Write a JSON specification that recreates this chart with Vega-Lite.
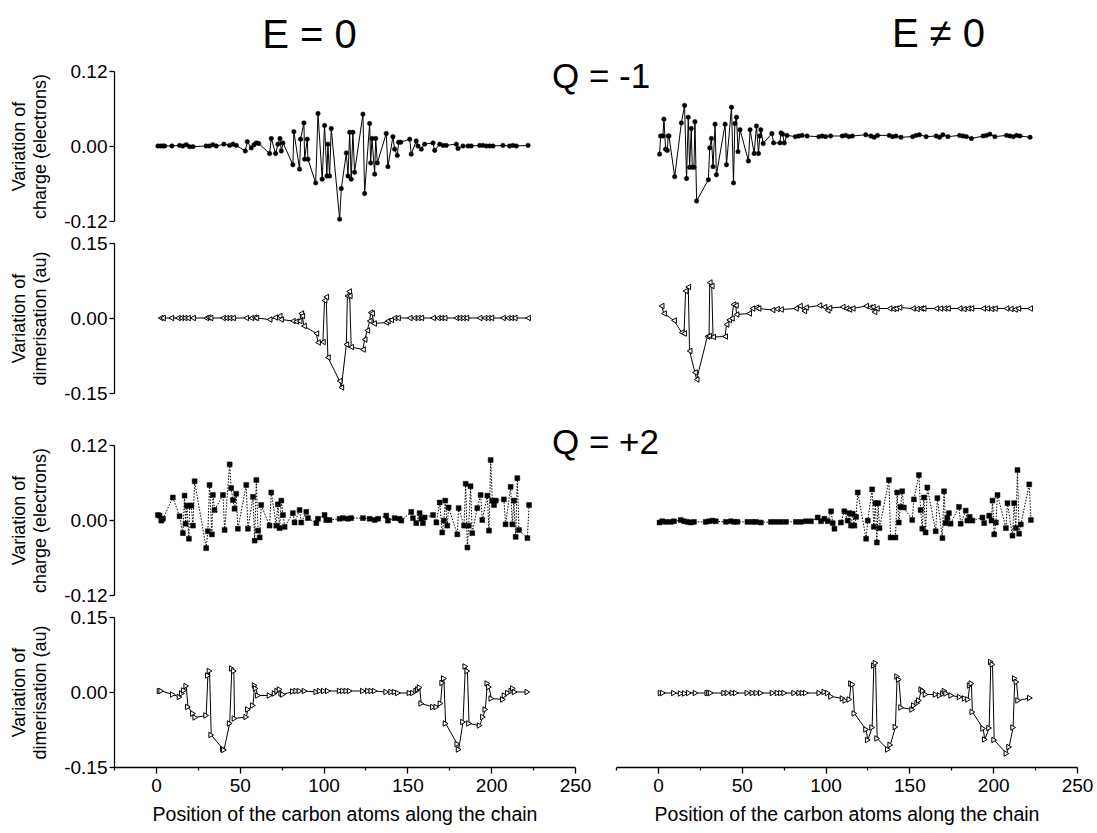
{
  "$schema": "https://vega.github.io/schema/vega-lite/v6.json",
  "padding": {"left": 10, "top": 15, "right": 5, "bottom": 5},
  "config": {
    "view": {"stroke": null},
    "font": "Liberation Sans",
    "axis": {"domainColor": "black", "tickColor": "black", "labelColor": "black", "titleColor": "black", "labelFontSize": 19, "titleFontSize": 18, "titleFontWeight": "normal", "grid": false, "domainWidth": 1.3, "tickWidth": 1.3, "labelPadding": 2, "labelFont": "Liberation Sans", "titleFont": "Liberation Sans"},
    "title": {"fontWeight": "normal", "color": "black", "font": "Liberation Sans"}
  },
  "datasets": {
    "c1L": [{"x":1.2,"y":0},{"x":2.8,"y":0},{"x":4.2,"y":0},{"x":5.2,"y":0},{"x":9.5,"y":0},{"x":14.1,"y":0.001},{"x":16.1,"y":0},{"x":18.1,"y":0.002},{"x":20.1,"y":-0.001},{"x":22.1,"y":-0.001},{"x":30,"y":0},{"x":32,"y":0},{"x":34,"y":0.002},{"x":36,"y":0},{"x":40.6,"y":0.003},{"x":44,"y":0.001},{"x":46,"y":0.003},{"x":48,"y":0.001},{"x":53.3,"y":-0.008},{"x":54.5,"y":0.007},{"x":56.9,"y":-0.003},{"x":58.5,"y":0.002},{"x":59.9,"y":0.005},{"x":61.3,"y":0.004},{"x":67.8,"y":-0.012},{"x":68.8,"y":0.012},{"x":71.4,"y":-0.012},{"x":72.8,"y":0.003},{"x":74,"y":0.012},{"x":74.8,"y":-0.008},{"x":75.8,"y":0.005},{"x":81.7,"y":-0.03},{"x":82.3,"y":0.023},{"x":85.7,"y":-0.037},{"x":86.3,"y":0.011},{"x":88.3,"y":0.037},{"x":88.7,"y":-0.021},{"x":90.3,"y":0.011},{"x":90.7,"y":-0.021},{"x":95.3,"y":-0.059},{"x":96.7,"y":0.052},{"x":99.2,"y":-0.053},{"x":100.6,"y":0.033},{"x":102,"y":-0.048},{"x":102.6,"y":0.003},{"x":103.6,"y":-0.048},{"x":104.6,"y":0.028},{"x":109.6,"y":-0.117},{"x":110.6,"y":-0.068},{"x":113.6,"y":-0.011},{"x":114.6,"y":-0.048},{"x":115.6,"y":0.022},{"x":116.5,"y":-0.053},{"x":117.5,"y":0.022},{"x":118.5,"y":-0.042},{"x":123.5,"y":0.051},{"x":124.5,"y":-0.076},{"x":127.5,"y":0.036},{"x":128.1,"y":-0.027},{"x":128.9,"y":0.012},{"x":130.5,"y":-0.045},{"x":131.1,"y":0.012},{"x":132.1,"y":-0.027},{"x":137.4,"y":0.02},{"x":138.4,"y":-0.033},{"x":141.4,"y":0.015},{"x":142.4,"y":-0.005},{"x":144,"y":-0.015},{"x":144.8,"y":0.006},{"x":146,"y":0.006},{"x":151.4,"y":0.011},{"x":152.3,"y":-0.013},{"x":155.3,"y":0.008},{"x":156.3,"y":0},{"x":158.3,"y":-0.005},{"x":160.3,"y":0.003},{"x":165.3,"y":0.005},{"x":166.3,"y":-0.007},{"x":169.3,"y":0.003},{"x":171.3,"y":0.001},{"x":173.2,"y":0.001},{"x":179.2,"y":0.003},{"x":180.2,"y":-0.004},{"x":183.2,"y":0},{"x":186.2,"y":0},{"x":188.1,"y":0},{"x":193.1,"y":0.001},{"x":195.1,"y":0.001},{"x":197.1,"y":0},{"x":199.1,"y":0},{"x":201.1,"y":0},{"x":207,"y":0.001},{"x":211,"y":0},{"x":213,"y":0.001},{"x":215,"y":0},{"x":222,"y":0.001}],
    "c1R": [{"x":1,"y":-0.013},{"x":1.6,"y":0.016},{"x":3,"y":0.016},{"x":3.6,"y":0.043},{"x":4.6,"y":-0.005},{"x":5.6,"y":-0.007},{"x":6.2,"y":0.016},{"x":6.6,"y":0.016},{"x":10,"y":-0.049},{"x":14,"y":0.037},{"x":15.9,"y":0.065},{"x":17.1,"y":-0.052},{"x":18.1,"y":0.046},{"x":18.9,"y":-0.034},{"x":19.9,"y":0.028},{"x":20.5,"y":-0.034},{"x":21.5,"y":-0.034},{"x":22.1,"y":0.039},{"x":23.1,"y":-0.088},{"x":30.1,"y":-0.054},{"x":30.9,"y":-0.003},{"x":31.9,"y":0.012},{"x":32.9,"y":-0.033},{"x":34.1,"y":0.035},{"x":34.9,"y":-0.046},{"x":40.1,"y":0.035},{"x":40.9,"y":-0.03},{"x":43.9,"y":0.062},{"x":45.1,"y":-0.059},{"x":45.9,"y":0.036},{"x":46.9,"y":0.046},{"x":47.8,"y":-0.009},{"x":49,"y":0.026},{"x":54,"y":-0.024},{"x":55,"y":0.026},{"x":57.4,"y":-0.012},{"x":58.8,"y":0.032},{"x":60,"y":-0.012},{"x":60.8,"y":0.016},{"x":61.4,"y":0.026},{"x":62.8,"y":0.004},{"x":68,"y":0.02},{"x":69,"y":0.005},{"x":72.8,"y":0.005},{"x":73.4,"y":0.021},{"x":74.4,"y":0.019},{"x":75.4,"y":0.005},{"x":77,"y":0.017},{"x":82,"y":0.015},{"x":84,"y":0.016},{"x":86,"y":0.017},{"x":89,"y":0.016},{"x":96,"y":0.015},{"x":98,"y":0.016},{"x":100,"y":0.015},{"x":103,"y":0.016},{"x":110,"y":0.016},{"x":112,"y":0.017},{"x":114,"y":0.015},{"x":116,"y":0.016},{"x":124,"y":0.018},{"x":127,"y":0.016},{"x":129,"y":0.014},{"x":131,"y":0.017},{"x":138,"y":0.017},{"x":140,"y":0.015},{"x":142,"y":0.016},{"x":145,"y":0.014},{"x":152,"y":0.015},{"x":154,"y":0.017},{"x":156,"y":0.018},{"x":160,"y":0.015},{"x":166,"y":0.016},{"x":168,"y":0.014},{"x":170,"y":0.018},{"x":173,"y":0.015},{"x":180,"y":0.017},{"x":182,"y":0.016},{"x":184,"y":0.015},{"x":187,"y":0.012},{"x":194,"y":0.016},{"x":196,"y":0.017},{"x":198,"y":0.019},{"x":201,"y":0.015},{"x":208,"y":0.017},{"x":210,"y":0.016},{"x":212,"y":0.015},{"x":214,"y":0.017},{"x":216,"y":0.016},{"x":222,"y":0.014}],
    "d1L": [{"x":2.8,"y":0},{"x":4.2,"y":0},{"x":9.2,"y":0},{"x":13.1,"y":0},{"x":15.1,"y":0},{"x":17.1,"y":0},{"x":19.1,"y":0},{"x":22.1,"y":0},{"x":30,"y":0},{"x":31.4,"y":0.001},{"x":32.6,"y":0},{"x":40,"y":0},{"x":42,"y":0},{"x":44,"y":0},{"x":46,"y":0},{"x":53.9,"y":0},{"x":56.9,"y":0},{"x":58.9,"y":0.001},{"x":59.9,"y":0},{"x":67.8,"y":-0.003},{"x":71.2,"y":0.001},{"x":73.8,"y":0.004},{"x":74.6,"y":-0.003},{"x":81.7,"y":-0.006},{"x":83.7,"y":-0.007},{"x":85.7,"y":-0.006},{"x":86.7,"y":0.009},{"x":87.3,"y":0.004},{"x":88.3,"y":-0.016},{"x":95.7,"y":-0.031},{"x":96.7,"y":-0.049},{"x":99.6,"y":-0.048},{"x":100.6,"y":0.035},{"x":101.6,"y":0.042},{"x":102.6,"y":-0.079},{"x":109.6,"y":-0.126},{"x":110.6,"y":-0.139},{"x":113.6,"y":-0.053},{"x":114.2,"y":0.044},{"x":115.2,"y":0.053},{"x":115.6,"y":0.044},{"x":116.5,"y":-0.058},{"x":123.5,"y":-0.063},{"x":124.5,"y":-0.043},{"x":126.1,"y":-0.025},{"x":127.5,"y":-0.006},{"x":128.1,"y":0.011},{"x":128.9,"y":0.009},{"x":130.1,"y":-0.011},{"x":137.4,"y":-0.009},{"x":138.4,"y":-0.006},{"x":140.4,"y":-0.004},{"x":142.4,"y":0},{"x":144.4,"y":0},{"x":151.4,"y":0},{"x":154.3,"y":0},{"x":156.3,"y":0},{"x":158.3,"y":0},{"x":165.3,"y":0},{"x":168.3,"y":0},{"x":170.3,"y":0},{"x":172.2,"y":0},{"x":179.2,"y":0},{"x":181.2,"y":0},{"x":183.2,"y":0},{"x":185.2,"y":0},{"x":193.1,"y":0},{"x":196.1,"y":0},{"x":198.1,"y":0},{"x":200.1,"y":0},{"x":207,"y":0},{"x":210,"y":0},{"x":212,"y":0},{"x":214,"y":0},{"x":222,"y":0}],
    "d1R": [{"x":2.2,"y":0.024},{"x":3.6,"y":0.009},{"x":9.6,"y":-0.005},{"x":14.2,"y":-0.029},{"x":15.6,"y":-0.031},{"x":16.5,"y":0.054},{"x":18.1,"y":0.062},{"x":18.9,"y":-0.066},{"x":22.1,"y":-0.109},{"x":23.1,"y":-0.123},{"x":29.5,"y":-0.037},{"x":30.5,"y":-0.036},{"x":30.9,"y":0.071},{"x":32.1,"y":0.064},{"x":32.9,"y":-0.038},{"x":40.1,"y":-0.037},{"x":40.9,"y":-0.013},{"x":42.5,"y":-0.004},{"x":44.1,"y":-0.001},{"x":45.1,"y":0.027},{"x":46.5,"y":0.025},{"x":46.9,"y":0.007},{"x":54.4,"y":0.009},{"x":56.4,"y":0.019},{"x":58.8,"y":0.021},{"x":60,"y":0.019},{"x":68.4,"y":0.016},{"x":71,"y":0.018},{"x":73.4,"y":0.017},{"x":82.3,"y":0.019},{"x":84.7,"y":0.024},{"x":87.3,"y":0.014},{"x":88.3,"y":0.021},{"x":96.3,"y":0.025},{"x":99.3,"y":0.022},{"x":101.3,"y":0.015},{"x":102.3,"y":0.02},{"x":110.2,"y":0.022},{"x":112.5,"y":0.019},{"x":114.2,"y":0.017},{"x":116.2,"y":0.019},{"x":124.2,"y":0.024},{"x":126.5,"y":0.021},{"x":128.2,"y":0.022},{"x":129.2,"y":0.012},{"x":130.6,"y":0.019},{"x":138.2,"y":0.019},{"x":140.5,"y":0.018},{"x":142.1,"y":0.019},{"x":144.1,"y":0.021},{"x":152.1,"y":0.019},{"x":154.5,"y":0.018},{"x":157.1,"y":0.019},{"x":158.5,"y":0.019},{"x":166.1,"y":0.019},{"x":168.5,"y":0.019},{"x":171,"y":0.019},{"x":173,"y":0.019},{"x":180,"y":0.019},{"x":182.5,"y":0.018},{"x":185,"y":0.019},{"x":187,"y":0.019},{"x":194,"y":0.019},{"x":196.5,"y":0.019},{"x":199,"y":0.018},{"x":201,"y":0.019},{"x":208,"y":0.019},{"x":210.5,"y":0.018},{"x":213,"y":0.017},{"x":215,"y":0.019},{"x":222,"y":0.019}],
    "c2L": [{"x":1.2,"y":0.008},{"x":2.2,"y":0.007},{"x":3.2,"y":-0.001},{"x":4.2,"y":0.002},{"x":10.1,"y":0.036},{"x":14.1,"y":0.006},{"x":16.1,"y":-0.021},{"x":17.1,"y":0.039},{"x":17.7,"y":-0.006},{"x":18.5,"y":0.023},{"x":19.7,"y":-0.03},{"x":20.1,"y":0.023},{"x":21.1,"y":0.023},{"x":22.1,"y":-0.009},{"x":23.1,"y":0.062},{"x":30,"y":-0.045},{"x":31,"y":-0.018},{"x":32,"y":0.056},{"x":33.4,"y":-0.023},{"x":34,"y":0.04},{"x":35,"y":0.016},{"x":40,"y":0.04},{"x":41,"y":-0.016},{"x":44,"y":0.089},{"x":44.9,"y":0.051},{"x":45.9,"y":0.032},{"x":46.9,"y":0.018},{"x":47.9,"y":0.042},{"x":48.9,"y":-0.014},{"x":53.9,"y":0.056},{"x":54.9,"y":-0.014},{"x":57.9,"y":0.037},{"x":58.9,"y":-0.033},{"x":59.9,"y":0.064},{"x":60.9,"y":-0.017},{"x":61.9,"y":-0.028},{"x":62.8,"y":0.024},{"x":67.8,"y":-0.009},{"x":68.8,"y":0.044},{"x":71.8,"y":-0.009},{"x":72.8,"y":0.025},{"x":73.8,"y":-0.013},{"x":74.8,"y":0.031},{"x":75.8,"y":0.008},{"x":76.8,"y":-0.011},{"x":81.7,"y":0.011},{"x":82.7,"y":-0.004},{"x":85.7,"y":0.016},{"x":86.7,"y":-0.004},{"x":89.7,"y":0.013},{"x":90.7,"y":0.003},{"x":95.7,"y":-0.005},{"x":96.7,"y":0.002},{"x":100.6,"y":0.008},{"x":101.6,"y":0},{"x":103.6,"y":0},{"x":109.6,"y":0.002},{"x":111.6,"y":0.003},{"x":114.6,"y":0.002},{"x":116.5,"y":0.003},{"x":123.5,"y":0.003},{"x":127.5,"y":0.002},{"x":130.5,"y":0},{"x":132.5,"y":0.002},{"x":137.4,"y":0.007},{"x":138.4,"y":-0.001},{"x":142.4,"y":0.003},{"x":145.4,"y":0.002},{"x":146.4,"y":-0.001},{"x":152.3,"y":0.013},{"x":153.3,"y":0.003},{"x":155.3,"y":-0.005},{"x":157.3,"y":0.011},{"x":158.3,"y":0.002},{"x":159.3,"y":-0.005},{"x":160.3,"y":0.004},{"x":165.3,"y":0.008},{"x":167.3,"y":-0.004},{"x":169.3,"y":0.028},{"x":170.8,"y":-0.02},{"x":171.8,"y":-0.001},{"x":172.6,"y":0.031},{"x":173.8,"y":-0.009},{"x":174.6,"y":0.02},{"x":179.8,"y":-0.023},{"x":180.6,"y":0.019},{"x":183.8,"y":-0.009},{"x":184.8,"y":0.058},{"x":185.8,"y":-0.044},{"x":186.6,"y":-0.009},{"x":187.7,"y":0.054},{"x":188.7,"y":-0.021},{"x":191.7,"y":0.019},{"x":193.7,"y":0.04},{"x":194.7,"y":0},{"x":197.7,"y":0.039},{"x":198.7,"y":-0.017},{"x":199.7,"y":0.096},{"x":200.7,"y":0.031},{"x":201.7,"y":0.024},{"x":202.7,"y":0.031},{"x":207.6,"y":0.033},{"x":208.6,"y":-0.007},{"x":211.6,"y":0.053},{"x":212.6,"y":-0.007},{"x":213.6,"y":0.031},{"x":214.6,"y":-0.027},{"x":215.6,"y":0.067},{"x":216.6,"y":-0.016},{"x":221.6,"y":-0.029},{"x":222.6,"y":0.024}],
    "c2R": [{"x":1,"y":-0.004},{"x":2.6,"y":-0.002},{"x":4.6,"y":-0.003},{"x":7.6,"y":-0.003},{"x":9.6,"y":-0.002},{"x":13.6,"y":0},{"x":15.6,"y":-0.002},{"x":17.6,"y":-0.003},{"x":19.6,"y":-0.004},{"x":21.5,"y":-0.003},{"x":28.5,"y":-0.003},{"x":30.5,"y":-0.002},{"x":32.5,"y":-0.001},{"x":34.5,"y":-0.002},{"x":40.5,"y":-0.003},{"x":43.5,"y":-0.002},{"x":45.5,"y":-0.003},{"x":47.4,"y":-0.003},{"x":53.4,"y":-0.003},{"x":56.4,"y":-0.003},{"x":58.4,"y":-0.003},{"x":61.4,"y":-0.004},{"x":67.4,"y":-0.003},{"x":70.4,"y":-0.003},{"x":73.4,"y":-0.003},{"x":76.4,"y":-0.003},{"x":82.3,"y":-0.003},{"x":85.3,"y":-0.003},{"x":88.3,"y":-0.002},{"x":91.3,"y":-0.002},{"x":95.3,"y":0.004},{"x":97.3,"y":-0.002},{"x":99.3,"y":0.002},{"x":101.3,"y":-0.002},{"x":103.3,"y":0.014},{"x":104.3,"y":-0.005},{"x":105.3,"y":-0.014},{"x":109.2,"y":-0.004},{"x":111.2,"y":0.014},{"x":113.2,"y":-0.001},{"x":114.2,"y":0.011},{"x":115.2,"y":-0.009},{"x":116.2,"y":0.01},{"x":117.2,"y":-0.009},{"x":118.2,"y":0.005},{"x":119.2,"y":0.044},{"x":124.2,"y":-0.03},{"x":125.2,"y":-0.001},{"x":127.8,"y":0.049},{"x":128.8,"y":-0.011},{"x":129.8,"y":0.027},{"x":130.6,"y":-0.036},{"x":131.4,"y":0.027},{"x":132.2,"y":-0.013},{"x":137.8,"y":0.064},{"x":138.8,"y":-0.028},{"x":141.7,"y":-0.028},{"x":142.7,"y":0.044},{"x":143.7,"y":-0.004},{"x":144.7,"y":0.021},{"x":145.7,"y":0.046},{"x":146.7,"y":0.02},{"x":151.7,"y":0},{"x":152.7,"y":0.033},{"x":155.7,"y":0.072},{"x":156.7,"y":0.016},{"x":157.7,"y":-0.014},{"x":158.7,"y":0.036},{"x":159.7,"y":-0.02},{"x":160.7,"y":0.052},{"x":165.7,"y":-0.018},{"x":166.7,"y":0.035},{"x":169.7,"y":-0.029},{"x":170.7,"y":0.046},{"x":171.6,"y":-0.005},{"x":172.6,"y":0.003},{"x":173.6,"y":0.011},{"x":174.6,"y":-0.006},{"x":179.6,"y":0.021},{"x":180.6,"y":-0.006},{"x":183.6,"y":0.015},{"x":184.6,"y":-0.001},{"x":186,"y":0.005},{"x":187.6,"y":-0.001},{"x":193.6,"y":0.004},{"x":194.6,"y":-0.005},{"x":197.6,"y":0.007},{"x":199,"y":-0.001},{"x":199.6,"y":0.031},{"x":200.6,"y":-0.023},{"x":201.6,"y":-0.004},{"x":202.6,"y":0.04},{"x":207.6,"y":-0.013},{"x":208.5,"y":0.027},{"x":211.5,"y":-0.025},{"x":212.5,"y":0.027},{"x":213.5,"y":-0.013},{"x":214.5,"y":0.08},{"x":215.5,"y":-0.022},{"x":216.5,"y":-0.007},{"x":221.5,"y":0.057},{"x":222.5,"y":0}],
    "d2L": [{"x":2.2,"y":0.002},{"x":3.2,"y":0.002},{"x":10.1,"y":-0.005},{"x":14.1,"y":-0.01},{"x":15.5,"y":-0.003},{"x":16.7,"y":0.003},{"x":18.1,"y":0.012},{"x":19.1,"y":-0.03},{"x":22.1,"y":-0.043},{"x":23.5,"y":-0.051},{"x":30,"y":-0.047},{"x":31,"y":0.033},{"x":32,"y":0.042},{"x":33,"y":-0.086},{"x":40,"y":-0.114},{"x":40.6,"y":-0.116},{"x":44,"y":-0.063},{"x":45.3,"y":0.047},{"x":46.5,"y":0.042},{"x":46.9,"y":-0.053},{"x":53.9,"y":-0.05},{"x":54.9,"y":-0.035},{"x":57.9,"y":-0.027},{"x":58.9,"y":0.013},{"x":59.5,"y":0.007},{"x":60.9,"y":-0.007},{"x":67.8,"y":-0.007},{"x":70.8,"y":-0.003},{"x":72.4,"y":0.002},{"x":73.8,"y":0.005},{"x":74.8,"y":-0.003},{"x":75.8,"y":-0.005},{"x":81.7,"y":0.001},{"x":83.7,"y":0.002},{"x":85.7,"y":0.002},{"x":88.7,"y":0.002},{"x":95.7,"y":0},{"x":97.7,"y":0.002},{"x":100.2,"y":0.002},{"x":102.6,"y":0.002},{"x":109.6,"y":0.002},{"x":111.6,"y":0.002},{"x":113.6,"y":0.002},{"x":115.6,"y":0.002},{"x":123.5,"y":0.002},{"x":126.5,"y":0.002},{"x":128.5,"y":0.002},{"x":130.5,"y":0.002},{"x":137.4,"y":0},{"x":140.4,"y":0},{"x":142.4,"y":0},{"x":144.4,"y":-0.002},{"x":151.3,"y":-0.002},{"x":153.3,"y":-0.002},{"x":155.3,"y":0.002},{"x":156.3,"y":0.005},{"x":157.3,"y":0.009},{"x":158.3,"y":-0.023},{"x":165.3,"y":-0.03},{"x":167.3,"y":-0.03},{"x":169.8,"y":-0.023},{"x":170.8,"y":0.018},{"x":171.8,"y":0.027},{"x":172.8,"y":-0.063},{"x":179.8,"y":-0.104},{"x":180.6,"y":-0.115},{"x":183.2,"y":-0.06},{"x":184.6,"y":0.051},{"x":185.8,"y":0.042},{"x":186.8,"y":-0.063},{"x":193.1,"y":-0.067},{"x":195.1,"y":-0.05},{"x":196.5,"y":-0.035},{"x":197.7,"y":0.017},{"x":198.7,"y":0.01},{"x":200.1,"y":-0.013},{"x":207,"y":-0.015},{"x":208,"y":-0.007},{"x":210,"y":-0.002},{"x":212,"y":0.002},{"x":213,"y":0.007},{"x":214,"y":0},{"x":221.6,"y":0}],
    "d2R": [{"x":1.6,"y":-0.002},{"x":3,"y":-0.002},{"x":9.6,"y":-0.002},{"x":13.6,"y":-0.003},{"x":16.1,"y":-0.003},{"x":18.5,"y":-0.002},{"x":22.5,"y":-0.002},{"x":29.5,"y":-0.002},{"x":30.5,"y":-0.002},{"x":31.5,"y":-0.002},{"x":39.5,"y":-0.002},{"x":41.5,"y":-0.002},{"x":44.5,"y":-0.002},{"x":46.5,"y":-0.002},{"x":53.4,"y":-0.002},{"x":56.4,"y":-0.002},{"x":58.8,"y":-0.002},{"x":61.4,"y":-0.002},{"x":68.4,"y":-0.002},{"x":71.4,"y":-0.002},{"x":73.4,"y":-0.002},{"x":75.4,"y":-0.002},{"x":81.3,"y":-0.002},{"x":84.3,"y":-0.002},{"x":86.3,"y":-0.002},{"x":88.3,"y":-0.002},{"x":96.3,"y":-0.002},{"x":99.3,"y":0},{"x":101.3,"y":-0.002},{"x":103.3,"y":-0.009},{"x":110.2,"y":-0.013},{"x":111.8,"y":-0.017},{"x":114.2,"y":-0.015},{"x":115.2,"y":0.017},{"x":116.2,"y":0.015},{"x":117.2,"y":-0.043},{"x":124.2,"y":-0.075},{"x":125.2,"y":-0.096},{"x":127.8,"y":-0.071},{"x":128.8,"y":0.053},{"x":129.8,"y":0.058},{"x":130.8,"y":-0.093},{"x":137.2,"y":-0.115},{"x":138.6,"y":-0.106},{"x":141.7,"y":-0.07},{"x":142.7,"y":0.031},{"x":143.7,"y":0.025},{"x":145.1,"y":-0.031},{"x":151.7,"y":-0.035},{"x":152.7,"y":-0.027},{"x":154.7,"y":-0.022},{"x":155.7,"y":-0.017},{"x":157.1,"y":0.005},{"x":158.1,"y":0.002},{"x":159.7,"y":-0.005},{"x":165.7,"y":-0.005},{"x":168.1,"y":-0.007},{"x":170.1,"y":-0.003},{"x":171,"y":0.002},{"x":172,"y":-0.003},{"x":175,"y":-0.007},{"x":180,"y":-0.01},{"x":183,"y":-0.013},{"x":185,"y":-0.015},{"x":186,"y":0.013},{"x":187,"y":0.017},{"x":187.6,"y":-0.04},{"x":194,"y":-0.073},{"x":195,"y":-0.095},{"x":197.6,"y":-0.072},{"x":198.6,"y":0.06},{"x":199.6,"y":0.055},{"x":200.6,"y":-0.096},{"x":207.9,"y":-0.123},{"x":209.5,"y":-0.11},{"x":211.9,"y":-0.071},{"x":212.9,"y":0.027},{"x":213.9,"y":0.02},{"x":214.9,"y":-0.017},{"x":221.9,"y":-0.012}]
  },
  "columns": 2,
  "spacing": {"row": 22, "column": 41},
  "bounds": "flush",
  "concat": [
    {
      "width": 461, "height": 150,
      "title": {"text": "E = 0", "fontSize": 40, "frame": "group", "anchor": "middle", "dx": -35, "offset": -26, "baseline": "alphabetic"},
      "data": {"name": "c1L"},
      "layer": [
        {"mark": {"type": "line", "color": "black", "strokeWidth": 1},
         "encoding": {
           "x": {"field": "x", "type": "quantitative", "scale": {"domain": [-25, 250], "nice": false, "zero": false}, "axis": null},
           "y": {"field": "y", "type": "quantitative", "scale": {"domain": [-0.12, 0.12], "nice": false, "zero": false},
                 "axis": {"values": [-0.12, -0.06, 0, 0.06, 0.12], "labelExpr": "datum.value == 0.12 ? '0.12' : datum.value == -0.12 ? '-0.12' : datum.value == 0 ? '0.00' : ''", "tickSize": {"condition": {"test": "abs(datum.value) == 0.06", "value": 3}, "value": 5}, "title": ["Variation of", "charge (electrons)"], "titlePadding": 14, "titleLineHeight": 21, "labelOverlap": false, "labelFlush": false}}
         }},
        {"mark": {"type": "point", "shape": "circle", "filled": true, "fill": "black", "stroke": "black", "strokeWidth": 0.5, "size": 20, "opacity": 1},
         "encoding": {"x": {"field": "x", "type": "quantitative"}, "y": {"field": "y", "type": "quantitative"}}}
      ]
    },
    {
      "width": 461, "height": 150,
      "title": {"text": "E ≠ 0", "fontSize": 40, "frame": "group", "anchor": "middle", "dx": 92, "offset": -16, "baseline": "alphabetic"},
      "data": {"name": "c1R"},
      "layer": [
        {"mark": {"type": "line", "color": "black", "strokeWidth": 1},
         "encoding": {
           "x": {"field": "x", "type": "quantitative", "scale": {"domain": [-25, 250], "nice": false, "zero": false}, "axis": null},
           "y": {"field": "y", "type": "quantitative", "scale": {"domain": [-0.12, 0.12], "nice": false, "zero": false}, "axis": null}
         }},
        {"mark": {"type": "point", "shape": "circle", "filled": true, "fill": "black", "stroke": "black", "strokeWidth": 0.5, "size": 20, "opacity": 1},
         "encoding": {"x": {"field": "x", "type": "quantitative"}, "y": {"field": "y", "type": "quantitative"}}}
      ]
    },
    {
      "width": 461, "height": 150,
      "data": {"name": "d1L"},
      "layer": [
        {"mark": {"type": "line", "color": "black", "strokeWidth": 1},
         "encoding": {
           "x": {"field": "x", "type": "quantitative", "scale": {"domain": [-25, 250], "nice": false, "zero": false}, "axis": null},
           "y": {"field": "y", "type": "quantitative", "scale": {"domain": [-0.15, 0.15], "nice": false, "zero": false},
                 "axis": {"values": [-0.15, -0.075, 0, 0.075, 0.15], "labelExpr": "datum.value == 0.15 ? '0.15' : datum.value == -0.15 ? '-0.15' : datum.value == 0 ? '0.00' : ''", "tickSize": {"condition": {"test": "abs(datum.value) == 0.075", "value": 3}, "value": 5}, "title": ["Variation of", "dimerisation (au)"], "titlePadding": 14, "titleLineHeight": 21, "labelOverlap": false, "labelFlush": false}}
         }},
        {"mark": {"type": "point", "shape": "triangle-left", "filled": true, "fill": "white", "stroke": "black", "strokeWidth": 1, "size": 30, "opacity": 1},
         "encoding": {"x": {"field": "x", "type": "quantitative"}, "y": {"field": "y", "type": "quantitative"}}}
      ]
    },
    {
      "width": 461, "height": 150,
      "title": {"text": "Q = -1", "fontSize": 35, "frame": "group", "anchor": "start", "dx": -64, "offset": 120, "baseline": "alphabetic"},
      "data": {"name": "d1R"},
      "layer": [
        {"mark": {"type": "line", "color": "black", "strokeWidth": 1},
         "encoding": {
           "x": {"field": "x", "type": "quantitative", "scale": {"domain": [-25, 250], "nice": false, "zero": false}, "axis": null},
           "y": {"field": "y", "type": "quantitative", "scale": {"domain": [-0.15, 0.15], "nice": false, "zero": false}, "axis": null}
         }},
        {"mark": {"type": "point", "shape": "triangle-left", "filled": true, "fill": "white", "stroke": "black", "strokeWidth": 1, "size": 30, "opacity": 1},
         "encoding": {"x": {"field": "x", "type": "quantitative"}, "y": {"field": "y", "type": "quantitative"}}}
      ]
    },
    {"width": 461, "height": 8, "data": {"values": []}, "mark": "point"},
    {"width": 461, "height": 8, "data": {"values": []}, "mark": "point"},
    {
      "width": 461, "height": 150,
      "data": {"name": "c2L"},
      "layer": [
        {"mark": {"type": "line", "color": "black", "strokeWidth": 1, "strokeDash": [1.5, 1.5]},
         "encoding": {
           "x": {"field": "x", "type": "quantitative", "scale": {"domain": [-25, 250], "nice": false, "zero": false}, "axis": null},
           "y": {"field": "y", "type": "quantitative", "scale": {"domain": [-0.12, 0.12], "nice": false, "zero": false},
                 "axis": {"values": [-0.12, -0.06, 0, 0.06, 0.12], "labelExpr": "datum.value == 0.12 ? '0.12' : datum.value == -0.12 ? '-0.12' : datum.value == 0 ? '0.00' : ''", "tickSize": {"condition": {"test": "abs(datum.value) == 0.06", "value": 3}, "value": 5}, "title": ["Variation of", "charge (electrons)"], "titlePadding": 14, "titleLineHeight": 21, "labelOverlap": false, "labelFlush": false}}
         }},
        {"mark": {"type": "point", "shape": "square", "filled": true, "fill": "black", "stroke": "black", "strokeWidth": 0.5, "size": 24, "opacity": 1},
         "encoding": {"x": {"field": "x", "type": "quantitative"}, "y": {"field": "y", "type": "quantitative"}}}
      ]
    },
    {
      "width": 461, "height": 150,
      "title": {"text": "Q = +2", "fontSize": 35, "frame": "group", "anchor": "start", "dx": -64, "offset": -44, "baseline": "alphabetic"},
      "data": {"name": "c2R"},
      "layer": [
        {"mark": {"type": "line", "color": "black", "strokeWidth": 1, "strokeDash": [1.5, 1.5]},
         "encoding": {
           "x": {"field": "x", "type": "quantitative", "scale": {"domain": [-25, 250], "nice": false, "zero": false}, "axis": null},
           "y": {"field": "y", "type": "quantitative", "scale": {"domain": [-0.12, 0.12], "nice": false, "zero": false}, "axis": null}
         }},
        {"mark": {"type": "point", "shape": "square", "filled": true, "fill": "black", "stroke": "black", "strokeWidth": 0.5, "size": 24, "opacity": 1},
         "encoding": {"x": {"field": "x", "type": "quantitative"}, "y": {"field": "y", "type": "quantitative"}}}
      ]
    },
    {
      "width": 461, "height": 150,
      "data": {"name": "d2L"},
      "layer": [
        {"mark": {"type": "line", "color": "black", "strokeWidth": 1},
         "encoding": {
           "x": {"field": "x", "type": "quantitative", "scale": {"domain": [-25, 250], "nice": false, "zero": false},
                 "axis": {"values": [-25, 0, 25, 50, 75, 100, 125, 150, 175, 200, 225, 250], "labelExpr": "datum.value % 50 == 0 && datum.value >= 0 ? datum.label : ''", "tickSize": {"condition": {"test": "datum.value % 50 != 0", "value": 3}, "value": 6}, "title": "Position of the carbon atoms along the chain", "titleFontSize": 19.5, "titlePadding": 10, "labelPadding": 3, "labelOverlap": false, "labelFlush": false}},
           "y": {"field": "y", "type": "quantitative", "scale": {"domain": [-0.15, 0.15], "nice": false, "zero": false},
                 "axis": {"values": [-0.15, -0.075, 0, 0.075, 0.15], "labelExpr": "datum.value == 0.15 ? '0.15' : datum.value == -0.15 ? '-0.15' : datum.value == 0 ? '0.00' : ''", "tickSize": {"condition": {"test": "abs(datum.value) == 0.075", "value": 3}, "value": 5}, "title": ["Variation of", "dimerisation (au)"], "titlePadding": 14, "titleLineHeight": 21, "labelOverlap": false, "labelFlush": false}}
         }},
        {"mark": {"type": "point", "shape": "triangle-right", "filled": true, "fill": "white", "stroke": "black", "strokeWidth": 1, "size": 30, "opacity": 1},
         "encoding": {"x": {"field": "x", "type": "quantitative"}, "y": {"field": "y", "type": "quantitative"}}}
      ]
    },
    {
      "width": 461, "height": 150,
      "data": {"name": "d2R"},
      "layer": [
        {"mark": {"type": "line", "color": "black", "strokeWidth": 1},
         "encoding": {
           "x": {"field": "x", "type": "quantitative", "scale": {"domain": [-25, 250], "nice": false, "zero": false},
                 "axis": {"values": [-25, 0, 25, 50, 75, 100, 125, 150, 175, 200, 225, 250], "labelExpr": "datum.value % 50 == 0 && datum.value >= 0 ? datum.label : ''", "tickSize": {"condition": {"test": "datum.value % 50 != 0", "value": 3}, "value": 6}, "title": "Position of the carbon atoms along the chain", "titleFontSize": 19.5, "titlePadding": 10, "labelPadding": 3, "labelOverlap": false, "labelFlush": false}},
           "y": {"field": "y", "type": "quantitative", "scale": {"domain": [-0.15, 0.15], "nice": false, "zero": false}, "axis": null}
         }},
        {"mark": {"type": "point", "shape": "triangle-right", "filled": true, "fill": "white", "stroke": "black", "strokeWidth": 1, "size": 30, "opacity": 1},
         "encoding": {"x": {"field": "x", "type": "quantitative"}, "y": {"field": "y", "type": "quantitative"}}}
      ]
    }
  ]
}
